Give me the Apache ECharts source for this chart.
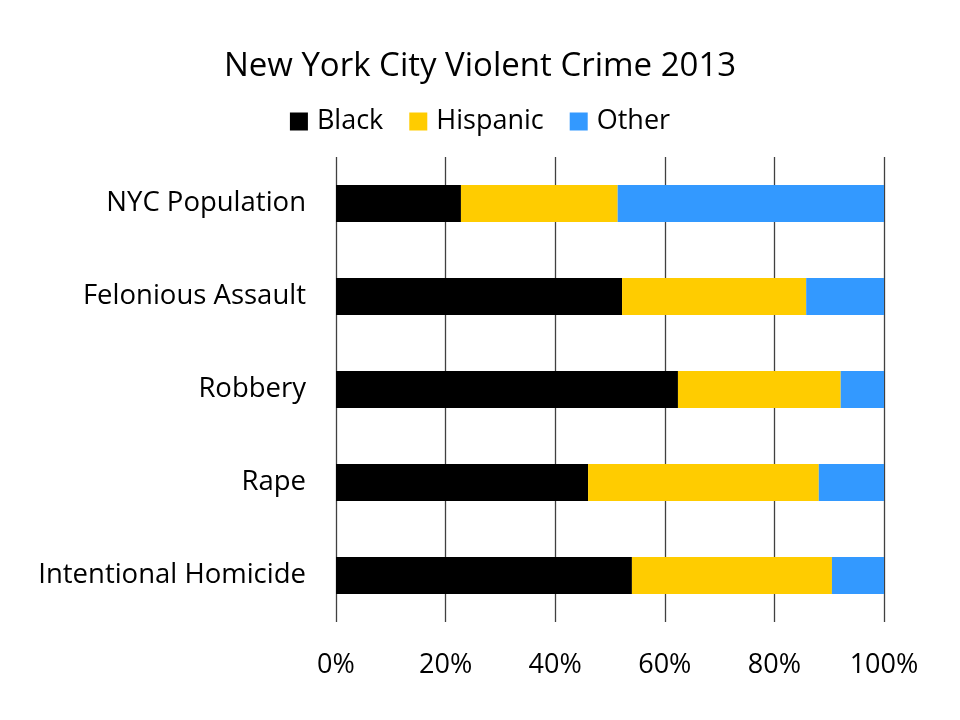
<!DOCTYPE html>
<html>
<head>
<meta charset="utf-8">
<script src="https://cdn.jsdelivr.net/npm/echarts@6/dist/echarts.min.js"></script>
<style>html,body{margin:0;padding:0;background:#fff;}#c{width:960px;height:720px;}</style>
</head>
<body>
<div id="c"></div>
<script>
const categories = ["NYC Population", "Felonious Assault", "Robbery", "Rape", "Intentional Homicide"];
const black = [22.8, 52.2, 62.4, 46.0, 54.0];
const hispanic = [28.6, 33.6, 29.7, 42.1, 36.5];
const other = [48.6, 14.2, 7.9, 11.9, 9.5];
const xTicks = [0, 20, 40, 60, 80, 100];

const FONT = "'Open Sans', 'Noto Sans', sans-serif";
const chart = echarts.init(document.getElementById('c'));
function bar(name, data, color) {
  return { name, type: 'bar', stack: 'all', data, barWidth: 37,
    itemStyle: { color }, emphasis: { disabled: true } };
}
chart.setOption({
  backgroundColor: '#fff',
  animation: false,
  title: { text: 'New York City Violent Crime 2013', left: 'center', top: 45,
    textStyle: { fontFamily: FONT, fontSize: 33, fontWeight: 'normal', color: '#000' } },
  legend: { top: 103, left: 'center', itemWidth: 18, itemHeight: 18, itemGap: 26,
    icon: 'rect',
    textStyle: { fontFamily: FONT, fontSize: 27, color: '#000', padding: [0, 0, 0, 4] },
    data: ['Black', 'Hispanic', 'Other'] },
  grid: { left: 336, right: 76, top: 157, bottom: 98, containLabel: false },
  xAxis: { type: 'value', min: 0, max: 100, interval: 20,
    axisLine: { show: false }, axisTick: { show: false },
    splitLine: { show: true, lineStyle: { color: '#404040', width: 1.3 } },
    axisLabel: { margin: 30, fontFamily: FONT, fontSize: 27, color: '#000',
      formatter: v => xTicks.includes(v) ? v + '%' : '' } },
  yAxis: { type: 'category', data: categories, inverse: true,
    axisLine: { show: false }, axisTick: { show: false },
    axisLabel: { margin: 30, fontFamily: FONT, fontSize: 27.5, color: '#000' } },
  series: [
    bar('Black', black, '#000000'),
    bar('Hispanic', hispanic, '#FFCC00'),
    bar('Other', other, '#3399FF')
  ]
});
</script>
</body>
</html>
